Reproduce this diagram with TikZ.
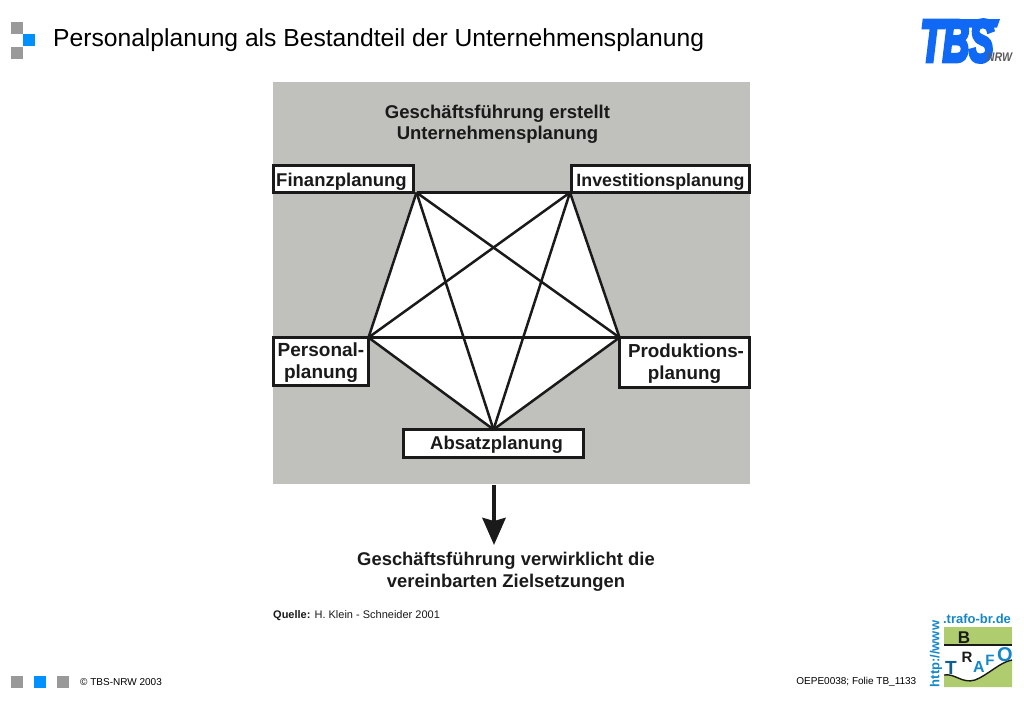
\documentclass[tikz,border=0pt]{standalone}
\usepackage{fontspec}
\setmainfont{Liberation Sans}
\newfontface\tbsface[FakeBold=7]{Liberation Sans Bold Italic}
\usetikzlibrary{arrows.meta}
\definecolor{panelgray}{RGB}{192,192,188}
\definecolor{squaregray}{RGB}{153,153,153}
\definecolor{squareblue}{RGB}{0,145,255}
\definecolor{logoblue}{RGB}{15,105,245}
\definecolor{trafoblue}{RGB}{20,135,200}
\definecolor{trafogreen}{RGB}{175,205,110}
\definecolor{ink}{RGB}{26,26,26}
\newcommand\drop[1]{\rule{0pt}{#1pt}}
\newcommand\bfs[1]{\bfseries\fontsize{#1}{22}\selectfont}
\tikzset{
  x=1pt,y=-1pt,
  planbox/.style={draw=ink,line width=3pt,fill=white,inner sep=0pt,outer sep=0pt,align=center,text=ink},
  link/.style={draw=ink,line width=2.5pt},
  plain/.style={inner sep=0pt,text=ink},
}
\begin{document}
\begin{tikzpicture}
\useasboundingbox (0,0) rectangle (1024,702);
% header squares
\fill[squaregray] (11,22) rectangle (23,34);
\fill[squaregray] (11,47) rectangle (23,59);
\fill[squareblue] (23,34) rectangle (35,46);
\node[plain,anchor=west,text=black,font=\fontsize{24.65}{28}\selectfont] (title) at (53,40.5) {Personalplanung als Bestandteil der Unternehmensplanung};
% TBS logo
\fill[logoblue] (927,19) -- (1000,19) -- (997,27.5) -- (925,27.5) -- cycle;
\node[plain,anchor=center,text=logoblue,font=\tbsface\fontsize{59}{59}\selectfont,xscale=0.62] (tbs) at (957,41) {TBS};
\node[plain,anchor=center,text=squaregray!60!black,font=\bfseries\itshape\fontsize{12.5}{13}\selectfont,xscale=0.85] (nrw) at (999.5,57) {NRW};
% panel
\fill[panelgray] (273,82) rectangle (750,484);
\node[plain,align=center,font=\bfseries\fontsize{18.5}{21.5}\selectfont] (head) at (497.5,124.5) {Geschäftsführung erstellt\\Unternehmensplanung};
% boxes
\node[planbox,font=\bfs{18.5},minimum width=140pt,minimum height=27pt] (fin) at (343.5,179) {\drop{19.5}Finanzplanung\kern4pt};
\node[planbox,font=\bfs{17.8},minimum width=178pt,minimum height=27pt] (inv) at (660.5,179) {\drop{19}Investitionsplanung};
\node[planbox,font=\bfs{19},minimum width=95pt,minimum height=48pt] (per) at (321,361.5) {\drop{17}Personal-\\planung};
\node[planbox,font=\bfs{18.8},minimum width=130pt,minimum height=50pt] (pro) at (684.5,362.5) {\drop{16.4}\kern3pt Produktions-\\planung};
\node[planbox,font=\bfs{18.5},minimum width=180pt,minimum height=28pt] (abs) at (493.5,443.5) {\drop{16.4}\kern6pt Absatzplanung};
% named corners of the pentagon
\coordinate (vf) at ([xshift=3pt]fin.south east);
\coordinate (vi) at ([xshift=-1.5pt]inv.south west);
% pentagon interior
\fill[white] (vf) -- (vi) -- (pro.north west) -- (abs.north) -- (per.north east) -- cycle;
% connectors
\draw[link] (vf) -- (vi);
\draw[link] (vi) -- (pro.north west);
\draw[link] (pro.north west) -- (abs.north);
\draw[link] (abs.north) -- (per.north east);
\draw[link] (per.north east) -- (vf);
\draw[link] (vf) -- (pro.north west);
\draw[link] (vf) -- (abs.north);
\draw[link] (vi) -- (per.north east);
\draw[link] (vi) -- (abs.north);
\draw[link] (per.north east) -- (pro.north west);
% arrow
\coordinate (arrowstart) at (494,485);
\node[plain,align=center,font=\bfseries\fontsize{18.4}{21.5}\selectfont] (goal) at (506,572) {Geschäftsführung verwirklicht die\\vereinbarten Zielsetzungen};
\coordinate (arrowend) at (494,545);
\draw[draw=ink,line width=4.5pt,-{Triangle[length=27pt,width=23pt,inset=3pt]}] (arrowstart) -- (arrowend);
% source
\node[plain,anchor=west,font=\fontsize{11}{13}\selectfont] (src) at (273,616) {\textbf{Quelle:} H. Klein - Schneider 2001};
% footer
\fill[squaregray] (11,676) rectangle (23,688);
\fill[squareblue] (34,676) rectangle (46,688);
\fill[squaregray] (57,676) rectangle (69,688);
\node[plain,anchor=west,text=black,font=\fontsize{10}{12}\selectfont] (copy) at (80,682) {© TBS-NRW 2003};
\node[plain,anchor=east,text=black,font=\fontsize{10}{12}\selectfont] (ref) at (916.5,682) {OEPE0038; Folie TB\_1133};
% trafo logo
\fill[trafogreen] (944,627) rectangle (1012,645);
\fill[trafogreen] (944,675) .. controls (955,673) and (962,684) .. (975,680) .. controls (988,675) and (1000,662) .. (1012,660) -- (1012,687) -- (944,687) -- cycle;
\draw[ink,line width=2pt] (944,645) -- (1012,645);
\draw[ink,line width=1.4pt] (944,675) .. controls (955,673) and (962,684) .. (975,680) .. controls (988,675) and (1000,662) .. (1012,660);
\node[plain,text=trafoblue,font=\bfseries\fontsize{13}{14}\selectfont] (url) at (977,619) {.trafo-br.de};
\node[plain,text=trafoblue,font=\bfseries\fontsize{13}{14}\selectfont,rotate=90] (http) at (936,654) {http://www};
\node[plain,text=ink,font=\bfseries\fontsize{17}{18}\selectfont] (b) at (964,637.5) {B};
\node[plain,text=trafoblue!70!black,font=\bfseries\fontsize{19}{20}\selectfont] (t) at (951,668) {T};
\node[plain,text=ink,font=\bfseries\fontsize{15}{16}\selectfont] (r) at (967,657) {R};
\node[plain,text=trafoblue,font=\bfseries\fontsize{16}{16}\selectfont] (a) at (979,667) {A};
\node[plain,text=trafoblue,font=\bfseries\fontsize{15}{16}\selectfont] (f) at (990,660) {F};
\node[plain,text=trafoblue,font=\bfseries\fontsize{20}{20}\selectfont] (o) at (1005,655) {O};
\end{tikzpicture}
\end{document}
